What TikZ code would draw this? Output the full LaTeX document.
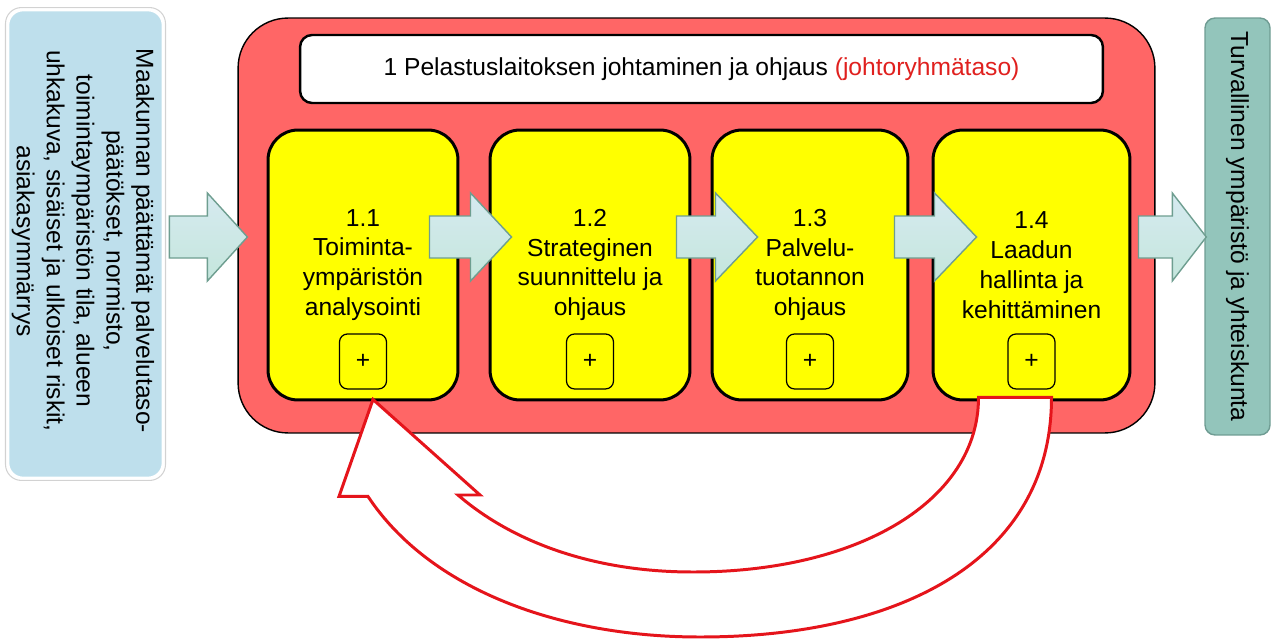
\documentclass[tikz,border=0pt]{standalone}
\usepackage{fontspec}
\setmainfont{Liberation Sans}
\usetikzlibrary{calc}

\definecolor{mainred}{HTML}{FF6666}
\definecolor{ylw}{HTML}{FFFF00}
\definecolor{srcblue}{HTML}{BEDFEC}
\definecolor{outteal}{HTML}{93C5BB}
\definecolor{outedge}{HTML}{6F9C93}
\definecolor{arredge}{HTML}{6E9E90}
\definecolor{loopred}{HTML}{E5141B}
\definecolor{lvlred}{HTML}{E0201E}

\tikzset{
  txt/.style={font=\fontsize{14}{17}\selectfont, align=center, text=black},
  mainbox/.style={draw=black, line width=0.8pt, fill=mainred, rounded corners=1cm,
    minimum width=18.34cm, minimum height=8.3cm},
  hdrbox/.style={draw=black, line width=1.4pt, fill=white, rounded corners=0.24cm,
    minimum width=16.06cm, minimum height=1.36cm, txt},
  stepbox/.style={draw=black, line width=1.7pt, fill=ylw, rounded corners=0.6cm,
    minimum height=5.4cm, txt},
  plusbox/.style={draw=black, line width=0.7pt, rounded corners=0.16cm,
    minimum width=0.94cm, minimum height=1.1cm, inner sep=0pt, txt},
  srcbox/.style={draw=white, line width=1.5pt, fill=srcblue, rounded corners=0.3cm,
    minimum width=3.1cm, minimum height=9.36cm},
  outbox/.style={draw=outedge, line width=0.8pt, fill=outteal, rounded corners=0.2cm,
    minimum width=1.3cm, minimum height=8.34cm},
  blockarrow/.style={draw=arredge, line width=0.8pt, line join=miter,
    top color=DCEEF2, bottom color=C4E4DA},
  looparrow/.style={draw=loopred, line width=1.7pt, fill=white, line join=miter},
}
\definecolor{DCEEF2}{HTML}{D6EAF0}
\definecolor{C4E4DA}{HTML}{C4E6DC}

% block arrow from a start point to a tip point, given head length
\newcommand\blockarr[3]{%
  \draw[blockarrow] ($(#1)+(0,-21)$) -- ($(#2)+(-#3,-21)$) -- ($(#2)+(-#3,-44)$)
    -- (#2) -- ($(#2)+(-#3,44)$) -- ($(#2)+(-#3,21)$) -- ($(#1)+(0,21)$) -- cycle;}

\begin{document}
\begin{tikzpicture}[x=0.02cm, y=-0.02cm]
\useasboundingbox (0,0) rectangle (1272,639);

% input box on the left
\node[draw=gray!35, line width=0.6pt, rounded corners=0.32cm,
  minimum width=3.2cm, minimum height=9.46cm] (srcshadow) at (85.5,244) {};
\node[srcbox] (src) at (85.5,244) {};
\node[txt, rotate=-90] (srctxt) at (83,241)
  {Maakunnan päättämät palvelutaso-\\päätökset, normisto,\\toimintaympäristön tila, alueen\\uhkakuva, sisäiset ja ulkoiset riskit,\\asiakasymmärrys};

% output box on the right
\node[outbox] (out) at (1237.5,226.5) {};
\node[txt, rotate=-90] (outtxt) at (out.center) {Turvallinen ympäristö ja yhteiskunta};

% main process container
\node[mainbox] (main) at (696.5,225.5) {};
\node[hdrbox] (hdr) at (701.5,69)
  {1 Pelastuslaitoksen johtaminen ja ohjaus \textcolor{lvlred}{(johtoryhmätaso)}};

% sub-process steps
\node[stepbox, minimum width=3.8cm] (b1) at (363,265) {1.1\\Toiminta-\\ympäristön\\analysointi};
\node[stepbox, minimum width=4.0cm] (b2) at (590,265) {1.2\\Strateginen\\suunnittelu ja\\ohjaus};
\node[stepbox, minimum width=3.92cm] (b3) at (810,265) {1.3\\Palvelu-\\tuotannon\\ohjaus};
\node[stepbox, minimum width=3.94cm] (b4) at (1031.5,265) {1.4\\Laadun\\hallinta ja\\kehittäminen};

\foreach \b in {b1,b2,b3,b4}
  \node[plusbox] (p\b) at ($(\b.south)+(0,-40)$) {+};

% flow arrows
\coordinate (row) at (0,237);
\coordinate (a0s) at ($(src.east|-row)+(5,0)$);
\coordinate (a0t) at ($(main.west|-row)+(10,0)$);
\coordinate (a1s) at ($(b1.east|-row)+(-30,0)$);
\coordinate (a1t) at ($(b2.west|-row)+(23,0)$);
\coordinate (a2s) at ($(b2.east|-row)+(-15,0)$);
\coordinate (a2t) at ($(b3.west|-row)+(47,0)$);
\coordinate (a3s) at ($(b3.east|-row)+(-15,0)$);
\coordinate (a3t) at ($(b4.west|-row)+(45,0)$);
\coordinate (a4s) at ($(b4.east|-row)+(7,0)$);
\coordinate (a4t) at ($(out.west|-row)+(2,0)$);
\blockarr{a0s}{a0t}{40}
\blockarr{a1s}{a1t}{41}
\blockarr{a2s}{a2t}{42}
\blockarr{a3s}{a3t}{42}
\blockarr{a4s}{a4t}{34}

% feedback loop from 1.4 back to 1.1
\coordinate (fbTip) at ($(b1.south)+(10,-2)$);
\coordinate (fbTailL) at ($(b4.south)+(-53,-4)$);
\coordinate (fbTailR) at ($(b4.south)+(20,-4)$);
\draw[looparrow] (fbTip) -- ++(-34,97) -- ++(29,0)
  .. controls (430,590) and (560,637) .. (700,637)
  .. controls (900,637) and (1051.5,560) .. (fbTailR)
  -- (fbTailL)
  .. controls (978.5,500) and (860,572) .. (693,572)
  .. controls (590,572) and (510,540) .. (458,495)
  -- (480,495) -- cycle;
\end{tikzpicture}
\end{document}
